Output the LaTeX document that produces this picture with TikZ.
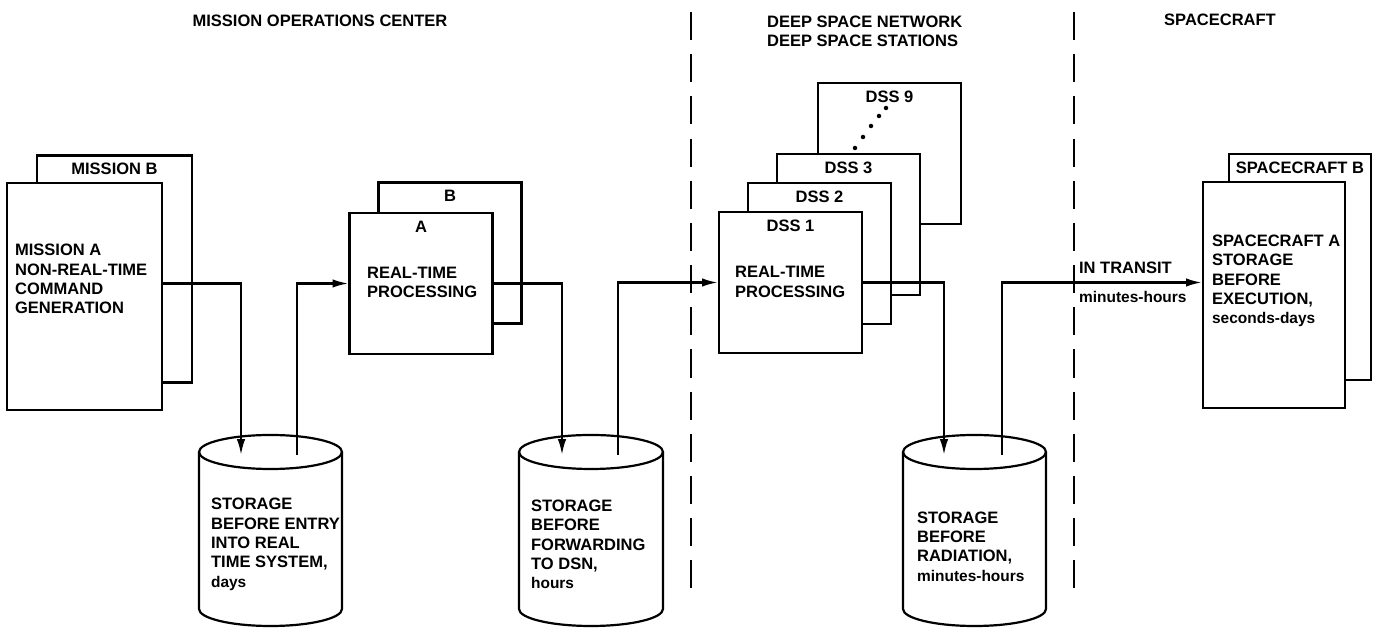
\documentclass[tikz,border=0pt]{standalone}
\usepackage{fontspec}
\setmainfont{Liberation Sans}
\usetikzlibrary{arrows.meta}

\begin{document}
\begin{tikzpicture}[x=0.2mm,y=0.2mm,line width=1.25pt,
    font=\bfseries\fontsize{9.4}{11}\selectfont,
    tall/.style={draw,fill=white,minimum width=31mm,minimum height=45.4mm,inner sep=0pt},
    square/.style={draw,fill=white,minimum width=28.6mm,minimum height=28.2mm,inner sep=0pt},
    craft/.style={draw,fill=white,minimum width=28.4mm,minimum height=45.2mm,inner sep=0pt},
    tag/.style={anchor=north,inner sep=4.5pt},
    note/.style={align=left,anchor=west,inner sep=0pt},
    head/.style={align=left,inner sep=0pt},
    flow/.style={-{Latex[length=9pt,width=4.8pt]}},
    divider/.style={line width=1.5pt,dash pattern=on 16pt off 8pt}]
    \useasboundingbox (0,0) rectangle (1380,632);
    \newcommand{\lc}{\fontsize{8.8}{11}\selectfont}

    % column headings and dividers
    \node[head] (moc) at (320,611) {MISSION OPERATIONS CENTER};
    \node[head,anchor=west] (dsn) at (766,601) {DEEP SPACE NETWORK\\DEEP SPACE STATIONS};
    \node[head] (sc) at (1220,612) {SPACECRAFT};
    \coordinate (div1top) at (691,620);
    \coordinate (div1bot) at (691,39);
    \coordinate (div2top) at (1074,620);
    \coordinate (div2bot) at (1074,39);
    \draw[divider] (div1top) -- (div1bot);
    \draw[divider] (div2top) -- (div2bot);

    % mission operations center
    \node[tall,label={[tag]north:MISSION B}] (mb) at (114.5,363) {};
    \node[tall] (ma) at (84.5,335.5) {};
    \node[note] (matext) at (14,353) {MISSION A\\NON-REAL-TIME\\COMMAND\\GENERATION};

    \node[square,label={[tag]north:B}] (pb) at (450,379) {};
    \node[square,label={[tag]north:A}] (pa) at (421,348.5) {};
    \node[note] (patext) at (366,349.5) {REAL-TIME\\PROCESSING};

    % storage drums
    \draw[fill=white] (199,180) -- (199,23) arc[start angle=180,end angle=360,x radius=14.3mm,y radius=3.4mm] -- (342,180);
    \draw (270.5,180) ellipse [x radius=14.3mm,y radius=3.4mm];
    \coordinate (st1in) at (241,177);
    \coordinate (st1out) at (297,177);
    \node[note] (st1text) at (210,87.5) {STORAGE\\BEFORE ENTRY\\INTO REAL\\TIME SYSTEM,\\{\lc days}};

    \draw[fill=white] (519,180) -- (519,23) arc[start angle=180,end angle=360,x radius=14.4mm,y radius=3.4mm] -- (663,180);
    \draw (591,180) ellipse [x radius=14.4mm,y radius=3.4mm];
    \coordinate (st2in) at (562,177);
    \coordinate (st2out) at (618,177);
    \node[note] (st2text) at (530,87.5) {STORAGE\\BEFORE\\FORWARDING\\TO DSN,\\{\lc hours}};

    \draw[fill=white] (903,180) -- (903,23) arc[start angle=180,end angle=360,x radius=14.3mm,y radius=3.4mm] -- (1046,180);
    \draw (974.5,180) ellipse [x radius=14.3mm,y radius=3.4mm];
    \coordinate (st3in) at (944,177);
    \coordinate (st3out) at (1002,177);
    \node[note] (st3text) at (916,85.5) {STORAGE\\BEFORE\\RADIATION,\\{\lc minutes-hours}};

    % deep space stations
    \node[square,label={[tag]north:DSS 9}] (d9) at (889.5,478.5) {};
    \node[square,label={[tag]north:DSS 3}] (d3) at (848.5,407.5) {};
    \node[square,label={[tag]north:DSS 2}] (d2) at (819.5,378.5) {};
    \node[square,label={[tag]north:DSS 1}] (d1) at (790.5,349.5) {};
    \node[note] (d1text) at (734,350) {REAL-TIME\\PROCESSING};
    \fill (855,484) circle[radius=0.45mm] (863,495) circle[radius=0.45mm] (871,506) circle[radius=0.45mm]
          (879,516) circle[radius=0.45mm] (886,524) circle[radius=0.45mm];

    % spacecraft
    \node[craft,label={[tag]north:SPACECRAFT B}] (sb) at (1300,365) {};
    \node[craft] (sa) at (1274,337) {};
    \node[note] (satext) at (1211,351) {SPACECRAFT A\\STORAGE\\BEFORE\\EXECUTION,\\{\lc seconds-days}};

    % command flow
    \draw[flow] (ma.east |- pa.west) -| (st1in);
    \draw[flow] (st1out) |- (pa.west);
    \draw[flow] (pa.east) -| (st2in);
    \draw[flow] (st2out) |- (d1.west);
    \draw[flow] (d1.east) -| (st3in);
    \draw[flow] (st3out) |- (sa.west |- d1.east);
    \node[note] (transit) at (1078,364) {IN TRANSIT};
    \node[note] (transittime) at (1078,335) {\lc minutes-hours};
\end{tikzpicture}
\end{document}
